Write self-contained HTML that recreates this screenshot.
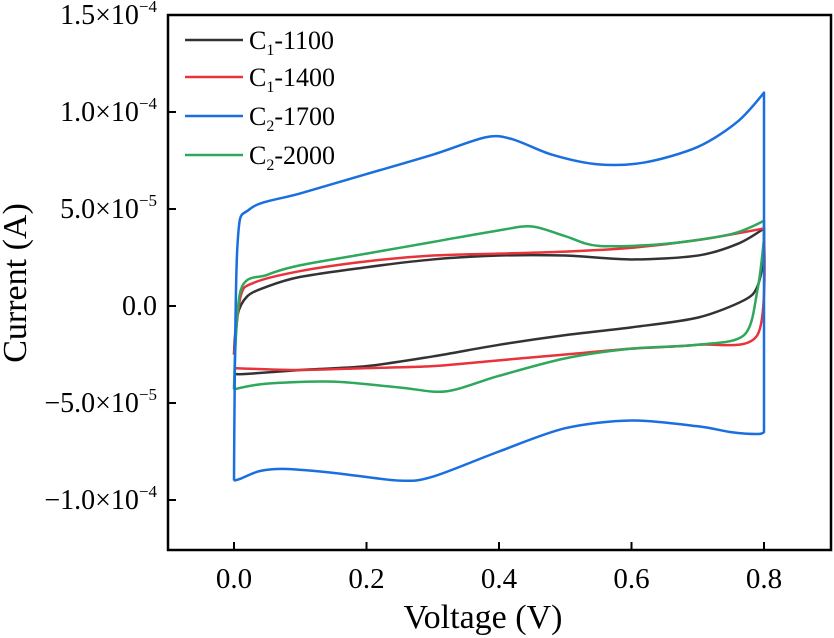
<!DOCTYPE html>
<html><head><meta charset="utf-8"><style>
html,body{margin:0;padding:0;background:#fff;}
svg{display:block;font-family:"Liberation Serif",serif;}
</style></head><body>
<svg id="chart" width="834" height="638" viewBox="0 0 834 638">
<rect x="168" y="15" width="663" height="535" fill="none" stroke="#000" stroke-width="2.5"/>
<g id="ticks"></g>
<g id="series"></g>
<text x="26" y="283" transform="rotate(-90 26 283)" font-size="34" text-anchor="middle">Current (A)</text>
<text x="483" y="628" font-size="34" text-anchor="middle">Voltage (V)</text>
<g font-size="26">
<g><line x1="185" y1="40" x2="243" y2="40" stroke="#333" stroke-width="2.5"/><text x="249" y="49">C<tspan font-size="16" dy="6">1</tspan><tspan dy="-6">-1100</tspan></text></g>
<g><line x1="185" y1="77" x2="243" y2="77" stroke="#e8333a" stroke-width="2.5"/><text x="249" y="86">C<tspan font-size="16" dy="6">1</tspan><tspan dy="-6">-1400</tspan></text></g>
<g><line x1="185" y1="116" x2="243" y2="116" stroke="#1a6fe0" stroke-width="2.5"/><text x="249" y="125">C<tspan font-size="16" dy="6">2</tspan><tspan dy="-6">-1700</tspan></text></g>
<g><line x1="185" y1="155" x2="243" y2="155" stroke="#2ea85a" stroke-width="2.5"/><text x="249" y="164">C<tspan font-size="16" dy="6">2</tspan><tspan dy="-6">-2000</tspan></text></g>
</g>
</svg>
<script>
const xTicks = [0.0, 0.2, 0.4, 0.6, 0.8];
const xTickLabels = ["0.0", "0.2", "0.4", "0.6", "0.8"];
const yTicks = [15, 10, 5, 0, -5, -10];
const yTickMant = ["1.5", "1.0", "5.0", "0.0", "\u22125.0", "\u22121.0"];
const yTickExp = ["\u22124", "\u22124", "\u22125", "", "\u22125", "\u22124"];
// currents in units of 1e-5 A
const blackV = [0,0.005,0.02,0.05,0.1,0.2,0.3,0.4,0.5,0.6,0.7,0.76,0.8,0.8,0.79,0.77,0.7,0.6,0.5,0.4,0.3,0.2,0.1,0.02,0];
const blackI = [-2.5,-0.5,0.5,1.0,1.5,2.0,2.4,2.6,2.6,2.4,2.6,3.2,4.0,2.5,1.0,0.3,-0.6,-1.1,-1.5,-2.0,-2.6,-3.1,-3.3,-3.5,-3.5];
const redV = [0,0.01,0.03,0.1,0.2,0.3,0.4,0.5,0.6,0.7,0.8,0.8,0.79,0.7,0.6,0.5,0.4,0.3,0.2,0.1,0];
const redI = [-2.5,0.5,1.2,1.8,2.3,2.6,2.7,2.8,3.0,3.4,4.0,3.5,-1.5,-2.0,-2.2,-2.5,-2.8,-3.1,-3.2,-3.3,-3.2];
const blueV = [0,0.005,0.024,0.1,0.2,0.3,0.38,0.42,0.48,0.55,0.62,0.7,0.76,0.8,0.8,0.79,0.75,0.7,0.6,0.5,0.4,0.3,0.25,0.15,0.08,0.04,0.01,0];
const blueI = [-9.0,3.0,5.0,5.8,6.8,7.8,8.7,8.6,7.8,7.3,7.4,8.2,9.5,11.0,-6.5,-6.6,-6.5,-6.2,-5.9,-6.3,-7.5,-8.8,-9.0,-8.6,-8.4,-8.5,-8.9,-9.0];
const greenV = [0,0.01,0.05,0.1,0.2,0.3,0.4,0.45,0.5,0.55,0.65,0.75,0.8,0.8,0.79,0.77,0.7,0.6,0.5,0.4,0.32,0.25,0.15,0.05,0];
const greenI = [-4.3,0.8,1.6,2.1,2.7,3.3,3.9,4.1,3.6,3.1,3.2,3.7,4.4,3.5,0.8,-1.5,-2.0,-2.2,-2.7,-3.6,-4.4,-4.2,-3.9,-4.0,-4.3];

const NS = "http://www.w3.org/2000/svg";
function sx(v){ return 234 + (v - 0) * 662.5; }
function sy(i){ return 306 - i * 19.4; }
const tg = document.getElementById('ticks');
xTicks.forEach((t,k)=>{
  const l = document.createElementNS(NS,'line');
  l.setAttribute('x1',sx(t)); l.setAttribute('x2',sx(t)); l.setAttribute('y1',550); l.setAttribute('y2',542);
  l.setAttribute('stroke','#000'); l.setAttribute('stroke-width','2');
  
  
  tg.appendChild(l);
  const tx = document.createElementNS(NS,'text');
  tx.setAttribute('x',sx(t)); tx.setAttribute('y',588); tx.setAttribute('font-size','29'); tx.setAttribute('text-anchor','middle');
  tx.textContent = xTickLabels[k];
  
  
  tg.appendChild(tx);
});
yTicks.forEach((t,k)=>{
  const y = sy(t);
  const l = document.createElementNS(NS,'line');
  l.setAttribute('x1',168); l.setAttribute('x2',176); l.setAttribute('y1',y); l.setAttribute('y2',y);
  l.setAttribute('stroke','#000'); l.setAttribute('stroke-width','2');
  
  
  tg.appendChild(l);
  const tx = document.createElementNS(NS,'text');
  tx.setAttribute('x',157); tx.setAttribute('y',y+9); tx.setAttribute('font-size','28'); tx.setAttribute('text-anchor','end');
  if (yTickExp[k]) {
    tx.innerHTML = yTickMant[k] + '\u00d710<tspan font-size="17" dy="-12">' + yTickExp[k] + '</tspan>';
  } else {
    tx.textContent = yTickMant[k];
  }
  
  
  tg.appendChild(tx);
});
function pathFrom(V,I){
  const p = V.map((v,k)=>[sx(v),sy(I[k])]);
  const n = p.length;
  const corner = V.map((v,k)=> k===0 || k===n-1 || (k>0 && V[k-1]===v) || (k<n-1 && V[k+1]===v));
  let d = 'M'+p[0][0]+','+p[0][1];
  const t=0.15;
  for(let k=0;k<n-1;k++){
    const p0=p[Math.max(0,k-1)], p1=p[k], p2=p[k+1], p3=p[Math.min(n-1,k+2)];
    const c1 = corner[k] ? p1 : [p1[0]+(p2[0]-p0[0])*t, p1[1]+(p2[1]-p0[1])*t];
    const c2 = corner[k+1] ? p2 : [p2[0]-(p3[0]-p1[0])*t, p2[1]-(p3[1]-p1[1])*t];
    d+=' C'+c1[0]+','+c1[1]+' '+c2[0]+','+c2[1]+' '+p2[0]+','+p2[1];
  }
  return d;
}
const sg = document.getElementById('series');
[[blackV,blackI,'#333','series-c1-1100'],[redV,redI,'#e8333a','series-c1-1400'],[greenV,greenI,'#2ea85a','series-c2-2000'],[blueV,blueI,'#1a6fe0','series-c2-1700']].forEach(s=>{
  const p = document.createElementNS(NS,'path');
  p.setAttribute('d',pathFrom(s[0],s[1]));
  p.setAttribute('fill','none'); p.setAttribute('stroke',s[2]); p.setAttribute('stroke-width','2.5');
  p.setAttribute('stroke-linejoin','round');
  
  
  sg.appendChild(p);
});
</script>
</body></html>
